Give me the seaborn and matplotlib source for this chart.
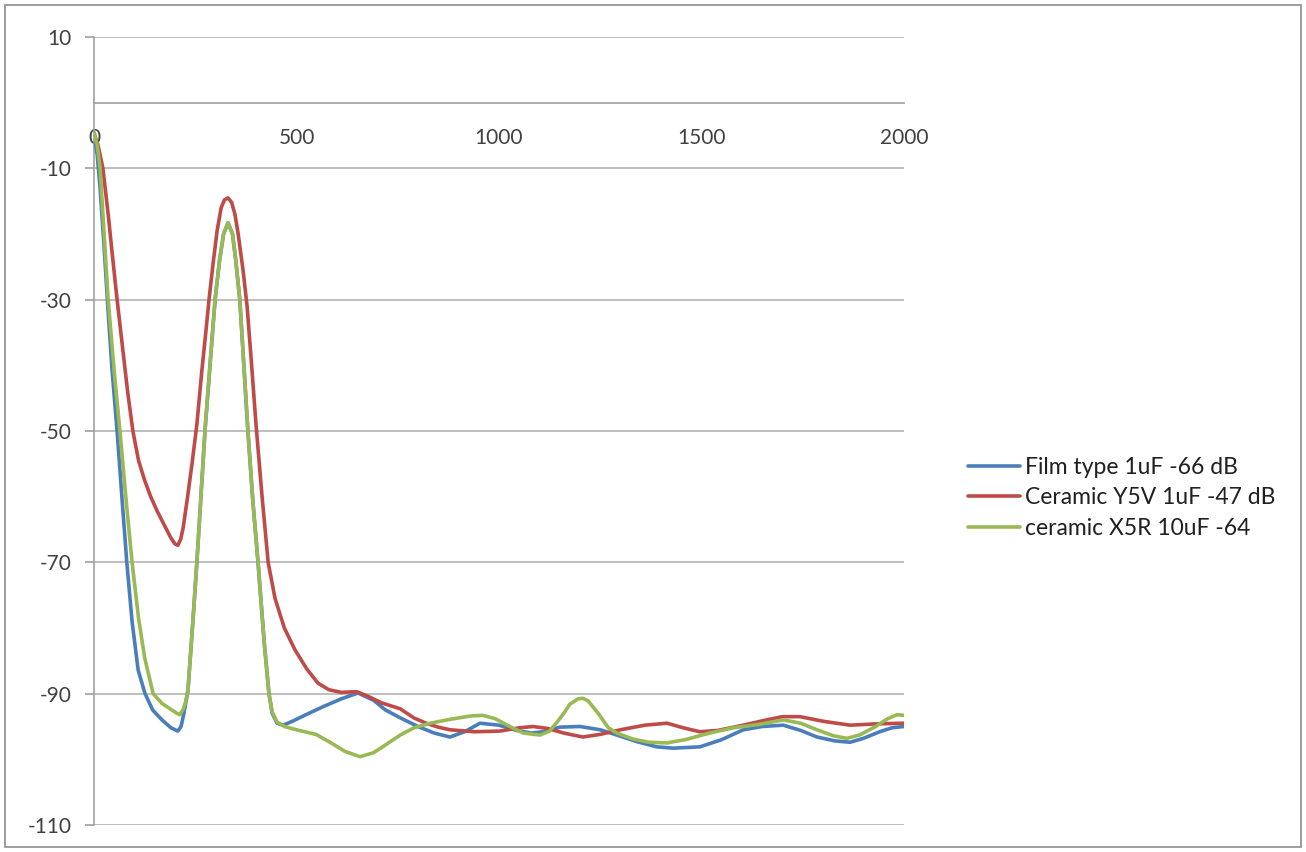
import pandas as pd
import matplotlib
matplotlib.use("Agg")
import matplotlib.pyplot as plt
import seaborn as sns
from matplotlib.patches import Rectangle

# values (frequency, level in dB)
film_f = [0, 8, 15, 25, 35, 45, 57, 70, 81, 94, 109, 126, 145, 168, 190, 207, 215, 222,
          232, 243, 254, 264, 274, 287, 299, 310, 320, 331, 342, 350, 360, 370, 380, 392,
          405, 420, 432, 440, 452, 467, 490, 520, 565, 610, 652, 690, 720, 760, 800, 840,
          879, 915, 953, 1000, 1044, 1080, 1109, 1150, 1200, 1250, 1291, 1340, 1390, 1430,
          1496, 1550, 1603, 1650, 1702, 1745, 1785, 1830, 1867, 1900, 1940, 1970, 2000]
film_db = [-4.6, -8, -13, -22, -32, -41, -50, -61, -70, -79, -86.4, -90, -92.5, -94, -95.2,
           -95.7, -95, -93, -89.5, -80, -70, -60, -50, -39.5, -30, -24, -20, -18.3, -20, -24,
           -30, -40, -50, -60.5, -70, -82, -90, -93, -94.5, -94.8, -94.2, -93.3, -92, -90.8,
           -89.9, -91, -92.5, -93.8, -95, -96, -96.6, -95.8, -94.5, -94.8, -95.6, -96, -95.8,
           -95.1, -95, -95.5, -96.3, -97.3, -98.1, -98.3, -98.1, -97, -95.5, -95, -94.8,
           -95.6, -96.6, -97.2, -97.4, -96.8, -95.8, -95.2, -95]

y5v_f = [0, 10, 22, 35, 45, 57, 70, 83, 96, 110, 125, 140, 156, 175, 190, 200, 207, 214,
         220, 230, 242, 254, 266, 276, 284, 294, 304, 314, 322, 331, 340, 348, 356, 368,
         378, 388, 400, 415, 430, 447, 470, 496, 525, 553, 580, 610, 649, 680, 710, 756,
         790, 820, 850, 879, 940, 1002, 1050, 1084, 1120, 1160, 1207, 1250, 1300, 1360,
         1415, 1455, 1496, 1540, 1603, 1660, 1700, 1743, 1800, 1867, 1930, 2000]
y5v_db = [-4.6, -6.5, -10, -17, -23, -30, -37, -44, -50, -54.5, -57.5, -60, -62.2, -64.5,
          -66.3, -67.2, -67.4, -66.5, -64.8, -60.5, -55, -49, -41, -35, -30, -24.5, -19.5,
          -16, -14.8, -14.5, -15.2, -17, -20, -25.5, -31, -39, -49, -60, -70, -75.5, -80,
          -83.3, -86.2, -88.4, -89.4, -89.8, -89.7, -90.5, -91.4, -92.3, -93.7, -94.5,
          -95.1, -95.5, -95.8, -95.7, -95.2, -95, -95.3, -96, -96.6, -96.2, -95.5, -94.8,
          -94.5, -95.2, -95.8, -95.6, -94.8, -94, -93.5, -93.5, -94.2, -94.8, -94.6, -94.5]

x5r_f = [0, 8, 15, 25, 35, 50, 64, 80, 94, 110, 125, 146, 168, 190, 205, 212, 220, 226,
         232, 243, 254, 264, 274, 287, 299, 310, 320, 331, 342, 350, 360, 370, 380, 392,
         405, 420, 432, 440, 452, 470, 500, 548, 580, 620, 657, 690, 720, 756, 790, 830,
         880, 930, 960, 990, 1027, 1060, 1101, 1125, 1145, 1160, 1175, 1195, 1207, 1220,
         1245, 1270, 1291, 1330, 1370, 1415, 1460, 1520, 1578, 1640, 1702, 1745, 1785,
         1825, 1859, 1890, 1930, 1960, 1983, 2000]
x5r_db = [-4.6, -6.5, -10, -20, -30, -41, -50, -61, -70, -78.5, -84.5, -90, -91.5, -92.4,
          -93, -93.2, -92.4, -91.3, -89.5, -80, -70, -60, -50, -39.5, -30, -24, -20, -18.3,
          -20, -24, -30, -40, -50, -60.5, -70, -82, -90, -92.8, -94.3, -95, -95.5, -96.2,
          -97.3, -98.8, -99.6, -99, -97.8, -96.3, -95.2, -94.5, -93.9, -93.4, -93.3, -93.8,
          -95, -96, -96.3, -95.7, -94.2, -93, -91.6, -90.8, -90.7, -91.1, -93, -95.2, -96,
          -96.9, -97.4, -97.5, -97, -96, -95.2, -94.7, -94, -94.5, -95.5, -96.4, -96.8,
          -96.3, -95, -93.8, -93.2, -93.3]

labels = ["Film type 1uF -66 dB", "Ceramic Y5V 1uF -47 dB", "ceramic X5R 10uF -64"]
colors = ["#4A7EBB", "#BE4B48", "#98B954"]

df = pd.concat([
    pd.DataFrame({"freq": film_f, "db": film_db, "series": labels[0]}),
    pd.DataFrame({"freq": y5v_f, "db": y5v_db, "series": labels[1]}),
    pd.DataFrame({"freq": x5r_f, "db": x5r_db, "series": labels[2]}),
])

sns.set_style("white")
plt.rcParams["font.family"] = ["Lato", "DejaVu Sans"]
plt.rcParams["axes.unicode_minus"] = False

fig = plt.figure(figsize=(13.06, 8.52), dpi=100)
ax = fig.add_axes([94 / 1306, 1 - 825 / 852, 810 / 1306, 788 / 852])
ax.set_axisbelow(True)

sns.lineplot(data=df, x="freq", y="db", hue="series", palette=colors,
             estimator=None, sort=True, linewidth=2.6, ax=ax, zorder=3)
for ln in ax.lines:
    ln.set_solid_joinstyle("round")
    ln.set_solid_capstyle("round")

ax.set_xlim(0, 2000)
ax.set_ylim(-110, 10)
ax.set_yticks(list(range(10, -111, -20)))
ax.set_xticks([0, 500, 1000, 1500, 2000])
ax.yaxis.grid(True, color="#B3B3B3", linewidth=1.2)
ax.xaxis.grid(False)
ax.set_xlabel("")
ax.set_ylabel("")

for side in ["top", "right"]:
    ax.spines[side].set_visible(False)
ax.spines["bottom"].set_position(("data", 0))
ax.spines["bottom"].set_color("#A0A0A0")
ax.spines["left"].set_color("#A0A0A0")
ax.spines["bottom"].set_linewidth(1.2)
ax.spines["left"].set_linewidth(1.2)

ax.tick_params(axis="y", direction="out", length=6.5, width=1.2, color="#A0A0A0",
               labelsize=15, labelcolor="#404040", pad=9.5, left=True)
ax.tick_params(axis="x", length=0, labelsize=15, labelcolor="#404040", pad=18)

ax.legend_.remove()
handles, _ = ax.get_legend_handles_labels()
fig.legend(handles, labels, loc="center left", bbox_to_anchor=(968 / 1306, 1 - 498 / 852),
           frameon=False, fontsize=16.5, handlelength=2.27, handletextpad=0.22,
           labelspacing=0.42, borderpad=0, borderaxespad=0, labelcolor="#202020")

fig.patches.append(Rectangle((5 / 1306, 5 / 852), 1296 / 1306, 842 / 852,
                             transform=fig.transFigure, fill=False,
                             edgecolor="#8C8C8C", linewidth=1.2))

fig.savefig("out.png", dpi=100)
